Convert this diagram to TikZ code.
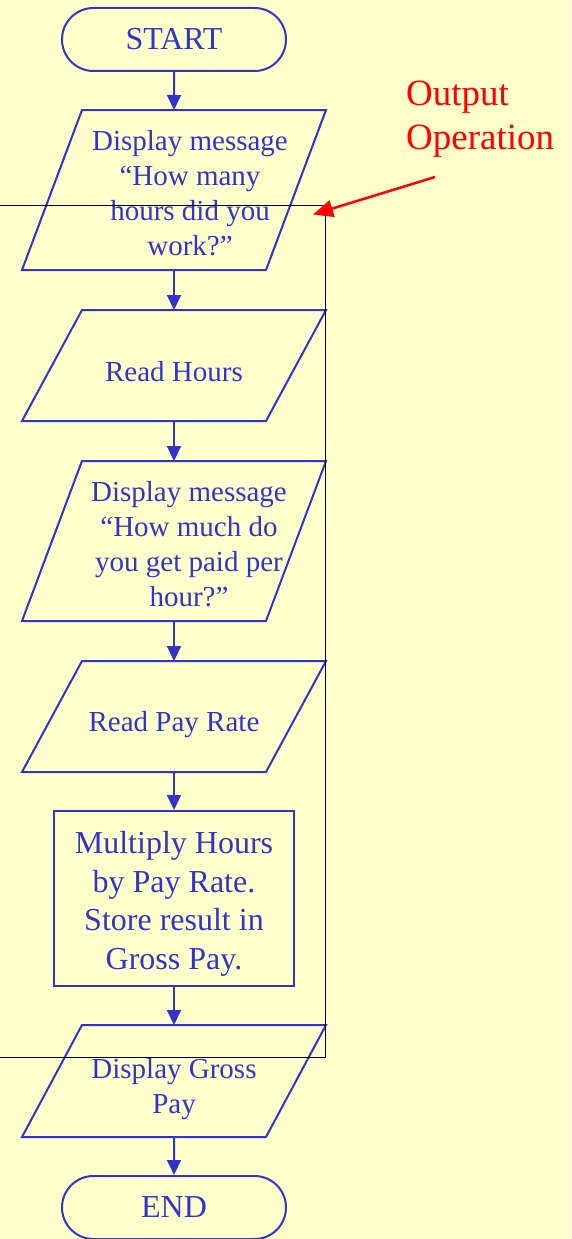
\documentclass[tikz,border=0pt]{standalone}
\usepackage{fontspec}
\setmainfont{Liberation Serif}
\usetikzlibrary{arrows.meta,calc,shapes.misc}
\definecolor{paper}{HTML}{FFFFCC}
\definecolor{flowblue}{HTML}{3333CC}
% draws a parallelogram (input/output box) over an invisible slot node
\newcommand\ioshape[1]{%
  \draw[flow] ($(#1.north west)+(60,0)$) -- (#1.north east)
    -- ($(#1.south east)-(60,0)$) -- (#1.south west) -- cycle;}
\begin{document}
\begin{tikzpicture}[x=1pt,y=-1pt,
  flow/.style={draw=flowblue, line width=2pt},
  term/.style={flow, rounded rectangle, minimum width=224pt, minimum height=63pt,
    inner sep=0pt, text=flowblue, font=\fontsize{32}{38}\selectfont},
  slot/.style={minimum width=304pt, inner sep=0pt, outer sep=0pt},
  txt/.style={text=flowblue, align=center, inner sep=0pt,
    font=\fontsize{29}{35}\selectfont},
  link/.style={draw=flowblue, line width=2pt, -{Triangle[length=15pt,width=14pt]}},
  callout/.style={draw=red, line width=2.5pt, -{Triangle[length=20pt,width=17pt]}}]

\fill[paper] (0,0) rectangle (571,1239);
\useasboundingbox (0,0) rectangle (571,1239);

% flowchart shapes
\node[term] (start) at (174,39.5) {START};
\node[slot, minimum height=160pt] (p1) at (174,190) {};
\node[slot, minimum height=111pt] (p2) at (174,365.5) {};
\node[slot, minimum height=160pt] (p3) at (174,541) {};
\node[slot, minimum height=111pt] (p4) at (174,716.5) {};
\node[flow, minimum width=240pt, minimum height=175pt, inner sep=0pt,
  text=flowblue, align=center, font=\fontsize{32}{38.5}\selectfont]
  (calc) at (174,898.5) {};
\node[slot, minimum height=112pt] (p5) at (174,1081) {};
\node[term] (end) at (174,1207.5) {END};

\ioshape{p1}
\ioshape{p2}
\ioshape{p3}
\ioshape{p4}
\ioshape{p5}

% texts of the boxes
\node[txt] (t1) at (190,193) {Display message\\“How many\\hours did you\\work?”};
\node[txt] (t2) at (174,372) {Read Hours};
\node[txt] (t3) at (189,544) {Display message\\“How much do\\you get paid per\\hour?”};
\node[txt] (t4) at (174,725) {Read Pay Rate};
\node[txt, font=\fontsize{32}{38.5}\selectfont] (t6) at (174,904)
  {Multiply Hours\\by Pay Rate.\\Store result in\\Gross Pay.};
\node[txt] (t5) at (174,1089) {Display Gross\\Pay};

% connectors
\draw[link] (start) -- (p1);
\draw[link] (p1) -- (p2);
\draw[link] (p2) -- (p3);
\draw[link] (p3) -- (p4);
\draw[link] (p4) -- (calc);
\draw[link] (calc) -- (p5);
\draw[link] (p5) -- (end);

% frame around the middle steps
\draw[black, line width=1.5pt] (-2,205.5) -| (325.7,1057.5) -- (-2,1057.5);

% callout
\node[text=red, align=left, anchor=west, inner sep=0pt,
  font=\fontsize{37}{44}\selectfont] (note) at (406,119) {Output\\Operation};
\coordinate (tail) at (435,177);
\coordinate (tip) at (313,214.5);
\draw[callout] (tail) -- (tip);
\end{tikzpicture}
\end{document}
